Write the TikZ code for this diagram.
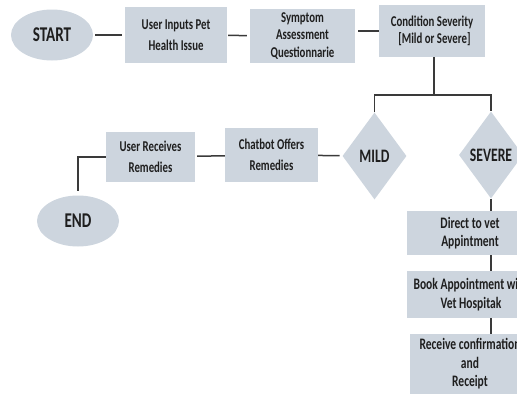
\documentclass[tikz,border=0pt]{standalone}
\usepackage{fontspec}
\setmainfont{Carlito}[FakeStretch=0.72]
\usepackage{tikz}
\usetikzlibrary{shapes.geometric}

\definecolor{boxblue}{RGB}{205,213,222}
\definecolor{linegray}{RGB}{58,58,58}
\definecolor{txtgray}{RGB}{30,30,30}

\tikzset{
  stepbox/.style={rectangle, fill=boxblue, inner sep=0pt, align=center, text=txtgray,
    font=\fontsize{15}{20.5}\selectfont\bfseries},
  tightbox/.style={stepbox, font=\fontsize{15}{17.5}\selectfont\bfseries},
  vetbox/.style={stepbox, font=\fontsize{16}{18.5}\selectfont\bfseries},
  term/.style={ellipse, fill=boxblue, inner sep=0pt, text=txtgray,
    minimum width=82pt, minimum height=51pt, font=\fontsize{21}{22}\selectfont\bfseries},
  choice/.style={diamond, fill=boxblue, inner sep=0pt, text=txtgray,
    minimum width=64pt, minimum height=87pt, font=\fontsize{19}{22}\selectfont\bfseries},
  link/.style={draw=linegray, line width=1.5pt}
}

\begin{document}
\begin{tikzpicture}[x=1pt,y=-1pt]
            \useasboundingbox (0,0) rectangle (517,394);
            \clip (0,0) rectangle (517,394);

            \node[term] (start) at (52,35) {START};
            \node[stepbox, minimum width=102pt, minimum height=56pt] (inp) at (176,35) {User Inputs Pet\\Health Issue};
            \node[tightbox, minimum width=105pt, minimum height=54pt] (quest) at (302.5,36) {Symptom\\Assessment\\Questionnarie};
            \node[tightbox, minimum width=106pt, minimum height=52pt] (cond) at (432,31) {Condition Severity\\\ \ [Mild or Severe]};
            \coordinate (split) at (434,95);

            \node[choice] (mild) at (374.5,156) {MILD};
            \node[choice] (sev) at (491,155) {SEVERE};

            \node[stepbox, minimum width=93pt, minimum height=54pt] (chat) at (271.5,155) {Chatbot Offers\\Remedies};
            \node[stepbox, minimum width=89pt, minimum height=50pt] (recv) at (150.5,157) {User Receives\\Remedies};
            \node[term] (end) at (78,221) {END};

            \node[vetbox, minimum width=126pt, minimum height=44pt] (vet) at (470,233) {Direct to vet\\Appintment};
            \node[vetbox, minimum width=128pt, minimum height=47pt] (book) at (471,294.5) {Book Appointment with\\Vet Hospitak};
            \node[vetbox, minimum width=120pt, minimum height=60pt] (conf) at (470,364) {Receive confirmation\\and\\Receipt};

            \draw[link, shorten <=2pt, shorten >=3pt] (start) -- (inp);
            \draw[link, shorten <=1pt, shorten >=3pt] (inp) -- (quest);
            \draw[link, shorten <=3pt] (quest.east |- cond) -- (cond.west |- cond);
            \draw[link] (cond.south -| split) -- (split);
            \draw[link] (mild.north) -- (mild.north |- split) -- (sev.north |- split) -- (sev.north);
            \draw[link, shorten >=3pt] (chat) -- (mild);
            \draw[link, shorten <=2pt] (recv) -- (chat);
            \draw[link, shorten >=4pt] (recv.west) -| (end.north);
            \draw[link] (sev.south) -- (sev.south |- vet.north);
            \draw[link] (sev.south |- vet.south) -- (sev.south |- book.north);
            \draw[link] (sev.south |- book.south) -- (sev.south |- conf.north);

        \end{tikzpicture}
\end{document}
